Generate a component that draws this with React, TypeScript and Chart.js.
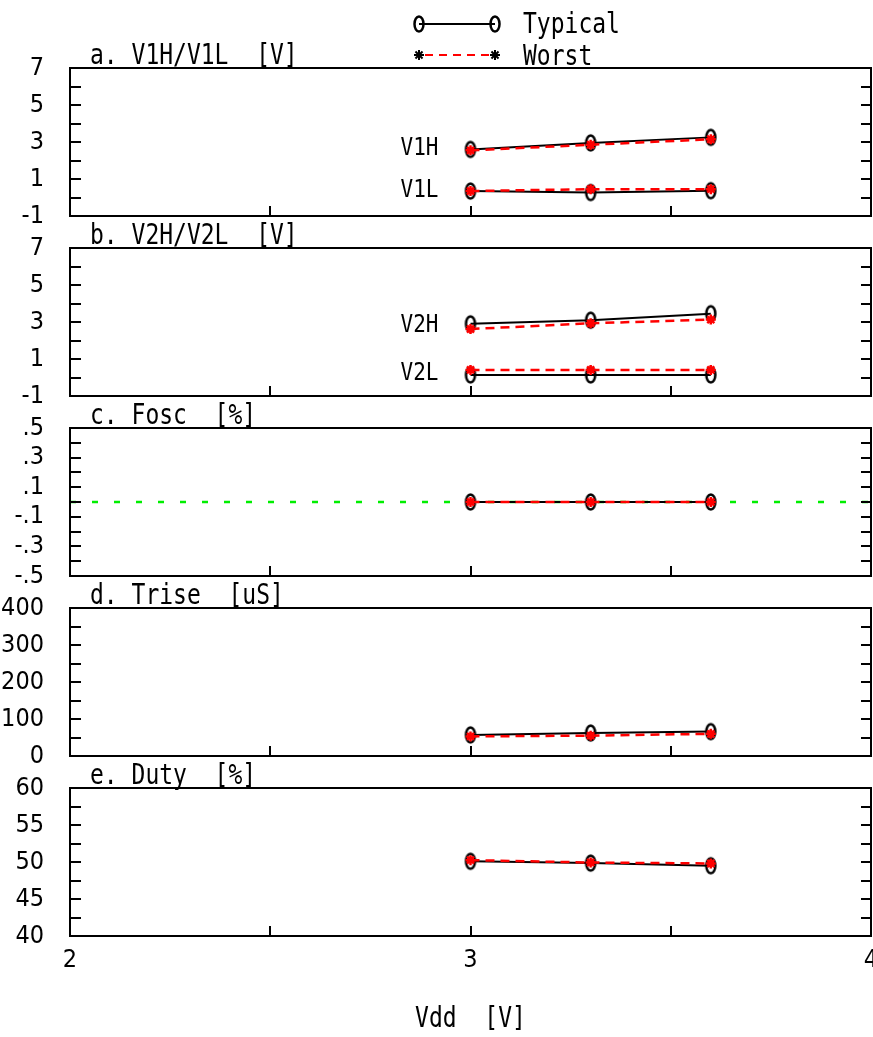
import React, { useEffect, useRef } from 'react';
import { Chart, registerables } from 'chart.js';

Chart.register(...registerables);

// ---------- data ----------
const vdd = [3.0, 3.3, 3.6];

const v1hTypical = [2.6, 2.95, 3.25];
const v1hWorst = [2.55, 2.85, 3.15];
const v1lTypical = [0.35, 0.27, 0.37];
const v1lWorst = [0.35, 0.45, 0.45];

const v2hTypical = [2.9, 3.1, 3.45];
const v2hWorst = [2.62, 2.93, 3.13];
const v2lTypical = [0.14, 0.14, 0.14];
const v2lWorst = [0.41, 0.41, 0.41];

const foscTypical = [0.0, 0.0, 0.0];
const foscWorst = [0.0, 0.0, 0.0];
const foscRefX = [2, 4];
const foscRefY = [0, 0];

const triseTypical = [57, 62, 66];
const triseWorst = [53, 55, 60];

const dutyTypical = [50.1, 49.85, 49.5];
const dutyWorst = [50.25, 49.93, 49.8];

const xTickValues = [2, 3, 4];
const xTickLabels = ['2', '3', '4'];

const vTickValues = [-1, 1, 3, 5, 7];
const vTickLabels = ['-1', '1', '3', '5', '7'];
const fTickValues = [0.5, 0.3, 0.1, -0.1, -0.3, -0.5];
const fTickLabels = ['.5', '.3', '.1', '-.1', '-.3', '-.5'];
const tTickValues = [0, 100, 200, 300, 400];
const tTickLabels = ['0', '100', '200', '300', '400'];
const dTickValues = [40, 45, 50, 55, 60];
const dTickLabels = ['40', '45', '50', '55', '60'];

const seriesNames = ['Typical', 'Worst'];
const panelTitles = ['a. V1H/V1L  [V]', 'b. V2H/V2L  [V]', 'c. Fosc  [%]', 'd. Trise  [uS]', 'e. Duty  [%]'];
const xAxisTitle = 'Vdd  [V]';

// ---------- layout / style ----------
const FONT = "'DejaVu Sans Mono', 'Liberation Mono', monospace";
const TICK_FONT = "'Liberation Sans Narrow', 'DejaVu Sans Condensed', 'DejaVu Sans Mono', monospace";
const STRETCH = 1.2;
const W = 873;
const CANVAS_W = 900;
const PLOT_RIGHT = 871;
const PAGE_H = 1037;
const PANEL_TOP0 = 68;
const PANEL_STEP = 180;
const PLOT_H = 148;
const PAD_TOP = 68;
const AXIS_W = 70;
const RED = '#ff0000';

type Ann = { text: string; x: number; y: number };
type PanelDef = {
  title: string;
  yMin: number;
  yMax: number;
  yStep: number;
  labelValues: number[];
  labelTexts: string[];
  typical: number[][];
  worst: number[][];
  annotations: Ann[];
  ref?: { x: number[]; y: number[] };
};

const panels: PanelDef[] = [
  {
    title: panelTitles[0], yMin: -1, yMax: 7, yStep: 1,
    labelValues: vTickValues, labelTexts: vTickLabels,
    typical: [v1hTypical, v1lTypical], worst: [v1hWorst, v1lWorst],
    annotations: [{ text: 'V1H', x: 2.92, y: 2.65 }, { text: 'V1L', x: 2.92, y: 0.4 }],
  },
  {
    title: panelTitles[1], yMin: -1, yMax: 7, yStep: 1,
    labelValues: vTickValues, labelTexts: vTickLabels,
    typical: [v2hTypical, v2lTypical], worst: [v2hWorst, v2lWorst],
    annotations: [{ text: 'V2H', x: 2.92, y: 2.84 }, { text: 'V2L', x: 2.92, y: 0.24 }],
  },
  {
    title: panelTitles[2], yMin: -0.5, yMax: 0.5, yStep: 0.1,
    labelValues: fTickValues, labelTexts: fTickLabels,
    typical: [foscTypical], worst: [foscWorst], annotations: [],
    ref: { x: foscRefX, y: foscRefY },
  },
  {
    title: panelTitles[3], yMin: 0, yMax: 400, yStep: 50,
    labelValues: tTickValues, labelTexts: tTickLabels,
    typical: [triseTypical], worst: [triseWorst], annotations: [],
  },
  {
    title: panelTitles[4], yMin: 40, yMax: 60, yStep: 2.5,
    labelValues: dTickValues, labelTexts: dTickLabels,
    typical: [dutyTypical], worst: [dutyWorst], annotations: [],
  },
];

function makeOval(): HTMLCanvasElement {
  const c = document.createElement('canvas');
  c.width = 14;
  c.height = 20;
  const g = c.getContext('2d')!;
  g.strokeStyle = '#000';
  g.lineWidth = 2.5;
  g.beginPath();
  g.ellipse(7, 10, 4.5, 7.5, 0, 0, Math.PI * 2);
  g.stroke();
  return c;
}

function drawStar(ctx: CanvasRenderingContext2D, x: number, y: number, r: number) {
  ctx.beginPath();
  for (let i = 0; i < 4; i++) {
    const a = (i * Math.PI) / 4;
    ctx.moveTo(x - Math.cos(a) * r, y - Math.sin(a) * r);
    ctx.lineTo(x + Math.cos(a) * r, y + Math.sin(a) * r);
  }
  ctx.stroke();
}

function text(
  ctx: CanvasRenderingContext2D,
  s: string,
  x: number,
  y: number,
  align: CanvasTextAlign,
  baseline: CanvasTextBaseline,
  size: number
) {
  ctx.save();
  ctx.translate(x, y);
  ctx.scale(1, STRETCH);
  ctx.font = `${size}px ${FONT}`;
  ctx.textAlign = align;
  ctx.textBaseline = baseline;
  ctx.fillText(s, 0, 0);
  ctx.restore();
}

function labelFor(v: number, values: number[], texts: string[]): string {
  for (let i = 0; i < values.length; i++) {
    if (Math.abs(values[i] - v) < 1e-6) return texts[i];
  }
  return '';
}

function Panel({ idx }: { idx: number }) {
  const ref = useRef<HTMLCanvasElement | null>(null);
  const p = panels[idx];
  const isLast = idx === panels.length - 1;
  const panelTop = PANEL_TOP0 + PANEL_STEP * idx;
  const canvasTop = panelTop - PAD_TOP;
  const canvasH = isLast ? PAGE_H - canvasTop : PAD_TOP + PLOT_H + 60;

  useEffect(() => {
    if (!ref.current) return;
    const oval = makeOval();
    const datasets: any[] = [];
    p.typical.forEach((arr) => {
      datasets.push({
        label: seriesNames[0],
        data: vdd.map((x, i) => ({ x, y: arr[i] })),
        borderColor: '#000',
        borderWidth: 2,
        pointStyle: oval,
        pointRadius: 7,
        order: 2,
      });
    });
    p.worst.forEach((arr) => {
      datasets.push({
        label: seriesNames[1],
        data: vdd.map((x, i) => ({ x, y: arr[i] })),
        borderColor: RED,
        borderWidth: 2.5,
        borderDash: [9, 6],
        pointStyle: 'star',
        pointRadius: 5,
        pointBorderColor: RED,
        pointBorderWidth: 2.5,
        order: 1,
      });
    });
    if (p.ref) {
      datasets.push({
        label: 'ref',
        data: p.ref.x.map((x, i) => ({ x, y: p.ref!.y[i] })),
        borderColor: '#00ee00',
        borderWidth: 2.5,
        borderDash: [6, 16],
        pointRadius: 0,
        order: 3,
      });
    }

    const framePlugin = {
      id: 'frame' + idx,
      afterDraw(chart: any) {
        const ctx: CanvasRenderingContext2D = chart.ctx;
        const { left, right, top, bottom } = chart.chartArea;
        const xs = chart.scales.x;
        const ys = chart.scales.y;
        ctx.save();
        ctx.strokeStyle = '#000';
        ctx.fillStyle = '#000';
        ctx.lineWidth = 2;
        ctx.setLineDash([]);
        // y ticks (inward, both sides)
        ys.ticks.forEach((t: any) => {
          if (t.value <= p.yMin + 1e-9 || t.value >= p.yMax - 1e-9) return;
          const py = Math.round(ys.getPixelForValue(t.value));
          ctx.beginPath();
          ctx.moveTo(left, py);
          ctx.lineTo(left + 11, py);
          ctx.moveTo(right - 10, py);
          ctx.lineTo(right, py);
          ctx.stroke();
        });
        // x ticks (inward, bottom)
        xs.ticks.forEach((t: any) => {
          if (t.value <= xs.min + 1e-9 || t.value >= xs.max - 1e-9) return;
          const px = Math.round(xs.getPixelForValue(t.value));
          ctx.beginPath();
          ctx.moveTo(px, bottom);
          ctx.lineTo(px, bottom - 10);
          ctx.stroke();
        });
        ctx.strokeRect(left, top, right - left, bottom - top);

        // panel title
        text(ctx, p.title, 90, top - 4, 'left', 'alphabetic', 23);

        // annotations
        p.annotations.forEach((a) => {
          text(ctx, a.text, xs.getPixelForValue(a.x), ys.getPixelForValue(a.y), 'right', 'middle', 21);
        });

        if (isLast) {
          text(ctx, xAxisTitle, (left + right) / 2, 1020 - canvasTop, 'center', 'middle', 23);
        }

        if (idx === 0) {
          // legend
          const lx0 = 419;
          const lx1 = 495;
          const ty = 24;
          const wy = 55;
          ctx.strokeStyle = '#000';
          ctx.beginPath();
          ctx.moveTo(lx0, ty);
          ctx.lineTo(lx1, ty);
          ctx.stroke();
          ctx.drawImage(oval, lx0 - oval.width / 2, ty - oval.height / 2);
          ctx.drawImage(oval, lx1 - oval.width / 2, ty - oval.height / 2);
          ctx.strokeStyle = RED;
          ctx.setLineDash([8, 6]);
          ctx.beginPath();
          ctx.moveTo(lx0 + 6, wy);
          ctx.lineTo(lx1 - 6, wy);
          ctx.stroke();
          ctx.setLineDash([]);
          ctx.strokeStyle = '#000';
          drawStar(ctx, lx0, wy, 5);
          drawStar(ctx, lx1, wy, 5);
          text(ctx, seriesNames[0], 523, 33, 'left', 'alphabetic', 23);
          text(ctx, seriesNames[1], 523, 65, 'left', 'alphabetic', 23);
        }
        ctx.restore();
      },
    };

    const chart = new Chart(ref.current, {
      type: 'line',
      data: { datasets },
      options: {
        animation: false,
        responsive: false,
        maintainAspectRatio: false,
        layout: { padding: { top: PAD_TOP, bottom: 0, left: 0, right: CANVAS_W - PLOT_RIGHT } },
        plugins: { legend: { display: false }, tooltip: { enabled: false }, title: { display: false } },
        scales: {
          x: {
            type: 'linear',
            position: 'bottom',
            min: 2,
            max: 4,
            grid: { display: false, drawTicks: false },
            border: { display: false },
            ticks: {
              display: isLast,
              stepSize: 0.5,
              autoSkip: false,
              maxRotation: 0,
              padding: 9,
              color: '#000',
              font: { family: TICK_FONT, size: 25 },
              callback: (v: any) => labelFor(Number(v), xTickValues, xTickLabels),
            },
            afterFit: (s: any) => {
              s.height = canvasH - (PAD_TOP + PLOT_H);
            },
          },
          y: {
            type: 'linear',
            position: 'left',
            min: p.yMin,
            max: p.yMax,
            grid: { display: false, drawTicks: false },
            border: { display: false },
            ticks: {
              stepSize: p.yStep,
              autoSkip: false,
              padding: 26,
              color: '#000',
              font: { family: TICK_FONT, size: 25 },
              callback: (v: any) => labelFor(Number(v), p.labelValues, p.labelTexts),
            },
            afterFit: (s: any) => {
              s.width = AXIS_W;
            },
          },
        },
      } as any,
      plugins: [framePlugin],
    });
    return () => chart.destroy();
  }, []);

  return (
    <canvas
      ref={ref}
      width={CANVAS_W}
      height={canvasH}
      style={{ position: 'absolute', left: 0, top: canvasTop, width: CANVAS_W, height: canvasH }}
    />
  );
}

export default function App() {
  return (
    <div style={{ position: 'absolute', left: 0, top: 0, width: W, height: PAGE_H, background: '#fff', overflow: 'hidden' }}>
      {panels.map((_, i) => (
        <Panel key={i} idx={i} />
      ))}
    </div>
  );
}
